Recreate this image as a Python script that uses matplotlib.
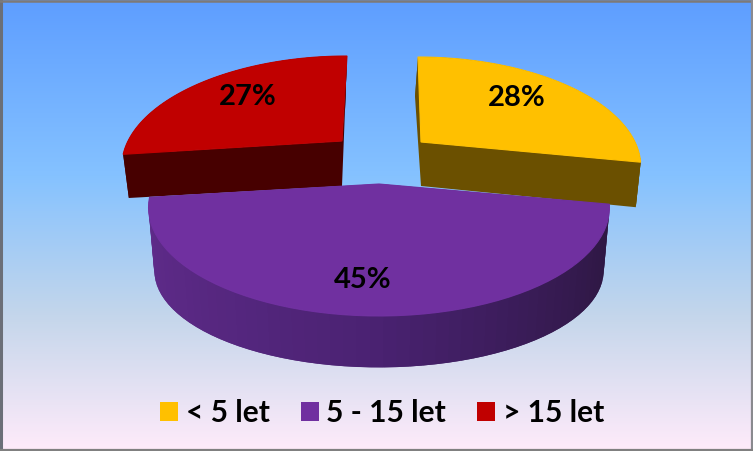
import numpy as np
import matplotlib
matplotlib.use("Agg")
import matplotlib.pyplot as plt
from matplotlib.colors import LinearSegmentedColormap, to_rgb
from matplotlib.patches import Patch, Polygon

categories = ["< 5 let", "5 - 15 let", "> 15 let"]
values = [28, 45, 27]
colors = ["#ffc000", "#7030a0", "#c00000"]

W, H = 753, 451

# layout of the exploded slices, in pixels
apex = [(421, 142), (379, 184), (342, 141)]
rad_x = [214, 225, 214]
lean = [-3, 0, 5]        # sideways drift of the back edge
base_shift = [44, 66, 45]
base_scale = [1.05, 0.89, 0.9]
base_x = [0.975, 0.975, 0.975]
base_lean = [-6, 0, 3]
label_pos = [(517, 98), (363, 280), (248, 97)]
wall_flat = ["#6b5000", None, "#470000"]
RAD_Y = 103.4
PERSP = 0.2166


def top_xy(i, ang):
    u, v = np.sin(ang), np.cos(ang)
    w = 1 + PERSP * v
    return rad_x[i] * u / w + lean[i] * v, -RAD_Y * v / w


def base_xy(i, ang):
    u, v = np.sin(ang), np.cos(ang)
    x, y = top_xy(i, ang)
    return (x - lean[i] * v) * base_x[i] + base_lean[i] * v, y * base_scale[i] + base_shift[i]


def wall_color(i, ang):
    if wall_flat[i] is not None:
        return wall_flat[i]
    # purple wall goes darker from left to right
    stops = [to_rgb("#5f2b8a"), to_rgb("#4a2272"), to_rgb("#2d1742")]
    t = np.sin(ang)
    return tuple(np.interp(t, [-1, 0, 1], [s[c] for s in stops]) for c in range(3))


def draw_slice(ax, i, a0, a1):
    ox, oy = apex[i]
    angs = np.linspace(a0, a1, 61)
    tx, ty = top_xy(i, angs)
    bx, by = base_xy(i, angs)
    # radial walls
    for k in (0, -1):
        quad = [(ox, oy), (ox + tx[k], oy + ty[k]), (ox + bx[k], oy + by[k]), (ox, oy + base_shift[i])]
        ax.add_patch(Polygon(quad, fc=wall_color(i, angs[k]), ec="none", zorder=i_order[i]))
    # outer wall, overlapping strips so no seams show
    for k in range(len(angs) - 1):
        k2 = min(k + 2, len(angs) - 1)
        quad = [(ox + tx[k], oy + ty[k]), (ox + tx[k2], oy + ty[k2]),
                (ox + bx[k2], oy + by[k2]), (ox + bx[k], oy + by[k])]
        c = wall_color(i, angs[k])
        ax.add_patch(Polygon(quad, fc=c, ec="none", zorder=i_order[i]))
    face = [(ox, oy)] + list(zip(ox + tx, oy + ty))
    ax.add_patch(Polygon(face, fc=colors[i], ec=colors[i], lw=0.8, zorder=i_order[i] + 0.5))


# red and yellow sit behind the purple slice
i_order = [2, 3, 1]

fig = plt.figure(figsize=(W / 100, H / 100), dpi=100)
ax = fig.add_axes([0, 0, 1, 1])
ax.set_xlim(0, W)
ax.set_ylim(H, 0)
ax.axis("off")

bg = LinearSegmentedColormap.from_list(
    "daybreak", [(0, "#5e9eff"), (0.39, "#85c2ff"), (0.70, "#c4d6eb"), (1, "#ffebfa")])
ax.imshow(np.linspace(0, 1, 256).reshape(-1, 1), cmap=bg, extent=(0, W, H, 0), aspect="auto", zorder=0)

edges = 2 * np.pi * np.concatenate([[0], np.cumsum(values)]) / sum(values)
for i in range(len(values)):
    draw_slice(ax, i, edges[i], edges[i + 1])

for i, v in enumerate(values):
    ax.text(label_pos[i][0], label_pos[i][1], f"{v}%", family="Lato", weight="bold", fontsize=21,
            color="black", ha="center", va="center", zorder=10)

# frame of the picture
ax.plot([1, 1], [0, H], color="#6b6f78", lw=2.2, zorder=11)
ax.plot([0, W], [1, 1], color="#7d7a78", lw=1.8, zorder=11)
ax.plot([W - 1, W - 1], [0, H], color="#8a8a8f", lw=1.6, zorder=11)
ax.plot([0, W], [H - 1, H - 1], color="#808080", lw=1.6, zorder=11)

handles = [Patch(fc=c, ec="none", label=n) for c, n in zip(colors, categories)]
leg = ax.legend(handles=handles, ncol=3, frameon=False, loc="center", bbox_to_anchor=(382, 413),
                bbox_transform=ax.transData, prop={"family": "Lato", "weight": "bold", "size": 21.5},
                handlelength=0.6, handleheight=0.6, handletextpad=0.25, columnspacing=1.05,
                borderpad=0, borderaxespad=0)
leg.set_zorder(10)

fig.savefig("out.png", dpi=100)
